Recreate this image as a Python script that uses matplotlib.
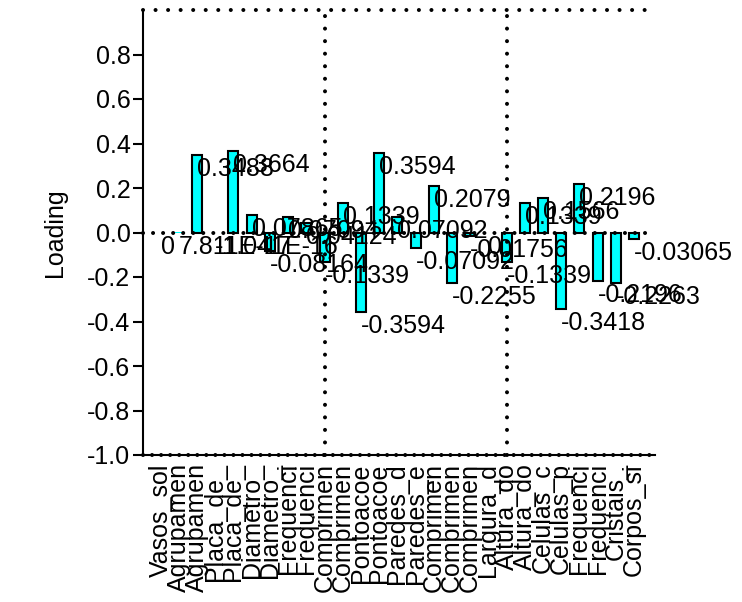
import numpy as np
import matplotlib
matplotlib.use('Agg')
import matplotlib.pyplot as plt

plt.rcParams['font.family'] = ['Liberation Sans', 'DejaVu Sans']

# variable names (truncated to 9 chars as in the original)
names = ['Vasos_sol', 'Agrupamen', 'Agrupamen', 'Placa_de_', 'Placa_de_',
         'Diametro_', 'Diametro_', 'Frequenci', 'Frequenci', 'Comprimen',
         'Comprimen', 'Pontoacoe', 'Pontoacoe', 'Paredes_d', 'Paredes_e',
         'Comprimen', 'Comprimen', 'Comprimen', 'Largura_d', 'Altura_do',
         'Altura_do', 'Celulas_c', 'Celulas_p', 'Frequenci', 'Frequenci',
         'Cristais_', 'Corpos_si']
# loadings
loadings = [0.0, 7.811e-17, 0.3488, -1.041e-16, 0.3664,
            0.07865, -0.08164, 0.07094, 0.04124, -0.1339,
            0.1339, -0.3594, 0.3594, 0.07092, -0.07092,
            0.2079, -0.2255, -0.01756, 0.0, -0.1339,
            0.1339, 0.1566, -0.3418, 0.2196, -0.2196,
            -0.2263, -0.03065]
yticks = [-1.0, -0.8, -0.6, -0.4, -0.2, 0.0, 0.2, 0.4, 0.6, 0.8]
vlines = [9, 19]

def fmt(v):
	if v == 0:
		return '0'
	return ('%.4g' % v).upper()

def dotted(spacing_px):
	lw = 2.9
	gap = spacing_px / (lw * 100 / 72.0)
	return dict(color='black', lw=lw, linestyle=(0, (0.01, gap)),
	            dash_capstyle='round', clip_on=False, zorder=4)

fig = plt.figure(figsize=(7.42, 6.02), dpi=100)
ax = fig.add_axes([143/742., 1 - 455/602., 512/742., 445/602.])

x = np.arange(len(names))
# no outline on the zero-height bars, otherwise a solid stub shows on the 0 line
edge_w = [1.5 if abs(v) > 1e-6 else 0 for v in loadings]
ax.bar(x, loadings, width=0.55, color='cyan', edgecolor='black',
       linewidth=edge_w, zorder=3)

ax.set_xlim(-0.97, 27.15)
ax.set_ylim(-1.0, 1.0)

for y, sp in [(0, 10), (1.0, 12.5), (-1.0, 9)]:
	ax.axhline(y, **dotted(sp))
for v in vlines:
	ax.axvline(v, **dotted(12.5))

for xi, v in zip(x, loadings):
	ax.annotate(fmt(v), (xi, v), xytext=(0, -14), textcoords='offset pixels',
	            ha='left', va='center', fontsize=18, zorder=5)

ax.set_yticks(yticks)
ax.set_yticklabels(['%.1f' % t for t in yticks], fontsize=18)
ax.set_xticks(x)
ax.set_xticklabels(names, rotation=90, fontsize=18)
ax.tick_params(axis='x', length=0, pad=6)
ax.tick_params(axis='y', length=7, width=1.5, pad=2)

for s in ['top', 'right']:
	ax.spines[s].set_visible(False)
ax.spines['left'].set_linewidth(1.5)
ax.spines['bottom'].set_linewidth(1.5)

ax.set_ylabel('Loading', fontsize=18)
ax.yaxis.set_label_coords(-0.148, 0.5)

fig.savefig('out.png', dpi=100)
